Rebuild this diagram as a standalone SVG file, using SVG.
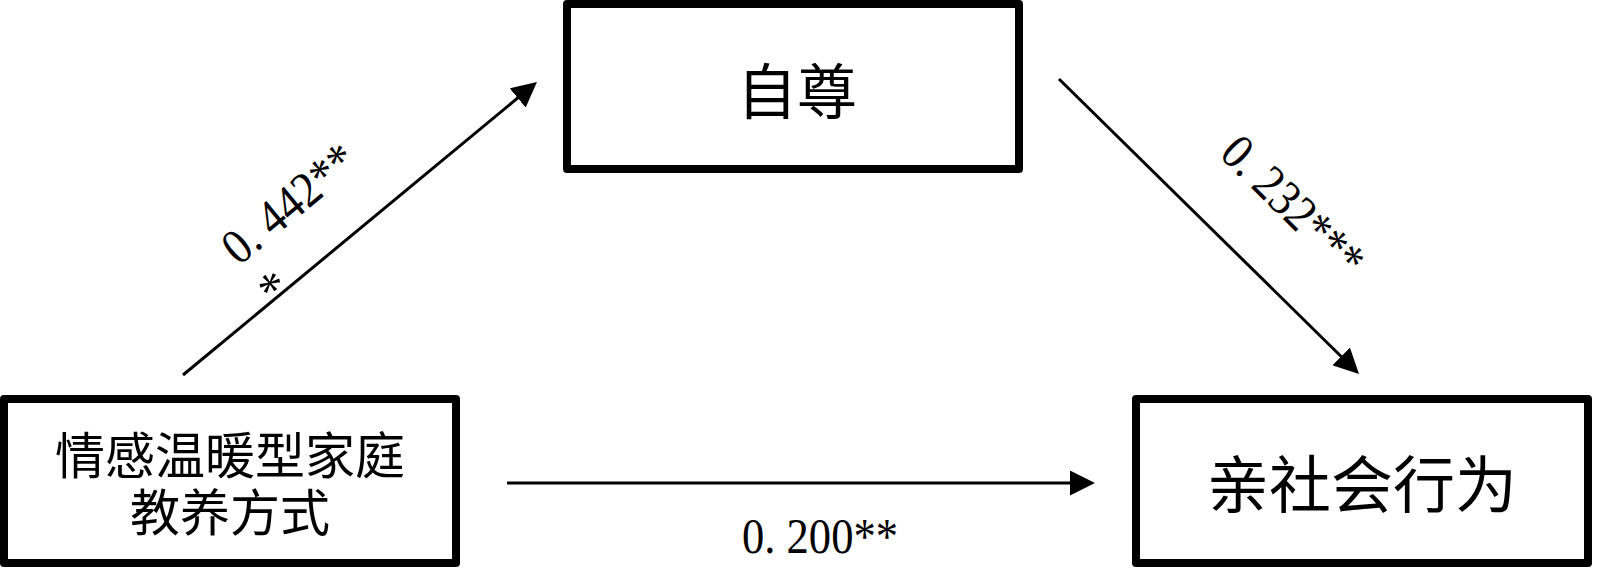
<svg xmlns="http://www.w3.org/2000/svg" width="1600" height="573" viewBox="0 0 1600 573">
  <style>
    .box { fill: #ffffff; stroke: #000000; stroke-width: 8; stroke-linejoin: round; }
    .cjk { font-family: "Noto Sans CJK SC", "Noto Sans", sans-serif; fill: #000000; text-anchor: middle; }
    .num { font-family: "Liberation Serif", "DejaVu Serif", serif; font-size: 50px; fill: #000000; }
    .conn { stroke: #000000; stroke-width: 3; fill: none; marker-end: url(#arrow); }
  </style>
  <defs>
    <marker id="arrow" markerUnits="userSpaceOnUse" markerWidth="25" markerHeight="25" viewBox="0 0 25 25" refX="10" refY="12.5" orient="auto">
      <path d="M0,0 L25,12.5 L0,25 Z" fill="#000000"/>
    </marker>
  </defs>
  <rect x="0" y="0" width="1600" height="573" fill="#ffffff"/>

  <g id="connectors">
    <line class="conn" x1="183" y1="375" x2="525.4" y2="91.6"/>
    <line class="conn" x1="507" y1="483" x2="1080" y2="483"/>
    <line class="conn" x1="1059" y1="79" x2="1348.3" y2="363.5"/>
    <g transform="translate(183,375) rotate(-39.6)">
      <text class="num" x="112" y="-48" textLength="158" lengthAdjust="spacingAndGlyphs">0. 442**</text>
      <text class="num" x="113" y="8">*</text>
    </g>
    <text class="num" x="742" y="553" textLength="156" lengthAdjust="spacingAndGlyphs">0. 200**</text>
    <g transform="translate(1059,79) rotate(44.5)">
      <text class="num" x="167" y="-57" textLength="178" lengthAdjust="spacingAndGlyphs">0. 232***</text>
    </g>
  </g>

  <g id="node-parenting">
    <rect class="box" x="4" y="399" width="452" height="164"/>
    <text class="cjk" x="230" y="474" font-size="50">情感温暖型家庭</text>
    <text class="cjk" x="230" y="531" font-size="50">教养方式</text>
  </g>

  <g id="node-selfesteem">
    <rect class="box" x="567" y="4" width="452" height="165"/>
    <text class="cjk" x="797" y="114" font-size="60">自尊</text>
  </g>

  <g id="node-prosocial">
    <rect class="box" x="1136" y="399" width="452" height="164"/>
    <text class="cjk" x="1362" y="508" font-size="62">亲社会行为</text>
  </g>
</svg>
